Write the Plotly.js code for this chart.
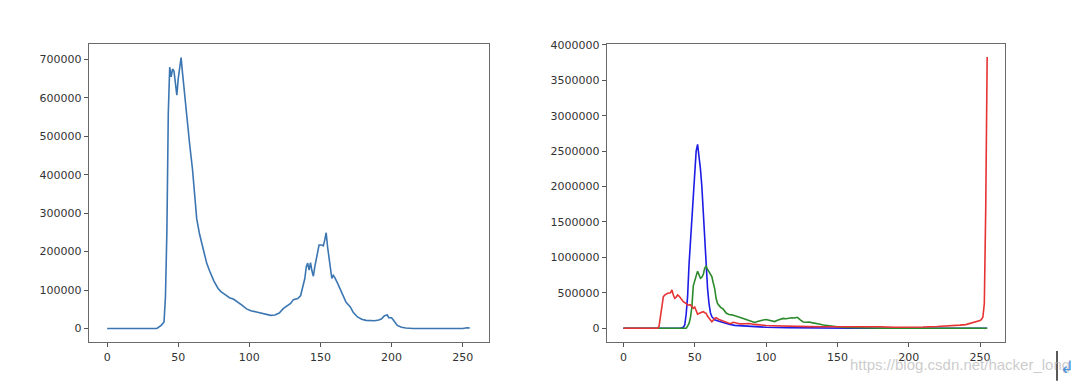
<!DOCTYPE html>
<html>
<head>
<meta charset="utf-8">
<script src="https://cdn.plot.ly/plotly-3.0.1.min.js"></script>
<style>
html,body{margin:0;padding:0;background:#ffffff;}
#chart{width:1080px;height:381px;}
</style>
</head>
<body>
<div id="chart"></div>
<script>
// Gray-level histogram (left)
const grayX = [0,35,38,40,41,42,43,44,45,46,47,48,49,50,51,52,53,54,56,58,60,61,62,63,65,67,70,72,75,78,80,83,86,89,92,95,98,101,105,109,112,115,118,121,124,127,129,131,134,136,137,139,140,141,142,143,144,145,146,147,148,149,151,152,153,154,155,156,157,158,159,160,162,164,166,168,171,173,176,179,182,185,188,191,193,195,197,198,200,202,204,207,210,215,250,253,255];
const grayY = [0,0,8000,17000,82000,250000,560000,680000,655000,675000,670000,630000,607000,650000,680000,705000,665000,625000,542000,480000,415000,375000,320000,285000,245000,213000,170000,150000,124000,104000,96000,88000,80000,76000,69000,60000,51000,46000,43000,40000,36000,34000,35000,40000,52000,60000,65000,75000,78000,85000,100000,130000,160000,170000,152000,171000,150000,136000,160000,182000,195000,217000,217000,215000,230000,249000,212000,180000,152000,130000,138000,133000,118000,100000,82000,68000,56000,42000,30000,24000,21000,20000,20000,22000,25000,33000,35000,28000,28000,18000,8000,3000,1000,0,0,2000,1000];

// Colour channel histograms (right)
const blueX = [0,40,42,43,44,45,46,47,48,49,50,51,52,53,54,55,56,57,58,59,60,61,62,64,67,70,74,78,84,90,100,115,130,150,160,255];
const blueY = [0,0,15000,46000,200000,450000,900000,1250000,1624000,1950000,2300000,2500000,2595000,2450000,2250000,2000000,1600000,1250000,850000,560000,350000,220000,164000,120000,100000,80000,58000,42000,32000,24000,15000,10000,8000,2000,0,0];

const greenX = [0,44,45,46,47,48,49,50,51,52,53,54,55,56,57,58,59,60,61,62,63,64,65,66,68,70,72,74,76,78,80,82,84,86,88,90,92,94,96,98,100,102,104,106,108,110,112,114,116,118,120,122,124,126,128,130,132,135,138,140,143,146,150,155,160,170,180,200,255];
const greenY = [0,0,30000,70000,150000,300000,600000,690000,740000,805000,760000,706000,720000,760000,850000,875000,830000,790000,770000,730000,640000,560000,420000,350000,300000,270000,215000,195000,190000,180000,164000,155000,140000,125000,110000,93000,82000,95000,112000,118000,125000,118000,108000,95000,115000,125000,140000,135000,145000,150000,145000,155000,120000,90000,85000,89000,80000,72000,58000,47000,38000,28000,20000,12000,8000,4000,2000,0,0];

const redX = [0,24,25,26,27,28,29,31,33,34,35,36,37,38,39,41,42,44,45,47,48,49,50,51,52,54,56,57,58,59,61,62,64,65,67,69,71,73,75,77,79,82,85,88,92,96,100,105,110,120,130,140,150,160,170,175,180,190,200,210,220,228,233,236,240,245,248,250,251,252,253,254,255];
const redY = [0,0,30000,164000,300000,446000,470000,494000,500000,541000,470000,424000,440000,470000,455000,410000,376000,350000,329000,330000,300000,282000,300000,240000,200000,220000,235000,220000,212000,170000,110000,94000,140000,150000,125000,110000,95000,80000,65000,85000,75000,62000,65000,68000,55000,45000,40000,36000,32000,27000,24000,22000,24000,20000,24000,30000,22000,15000,14000,18000,25000,30000,40000,45000,52000,80000,95000,110000,125000,160000,350000,1700000,3826000];

const xTicks = [0,50,100,150,200,250];
const leftYTicks = [0,100000,200000,300000,400000,500000,600000,700000];
const rightYTicks = [0,500000,1000000,1500000,2000000,2500000,3000000,3500000,4000000];

const lw = 1.6;
const traces = [
  {x: grayX, y: grayY, type: 'scatter', mode: 'lines', line: {color: '#3b76b2', width: lw}, xaxis: 'x', yaxis: 'y', hoverinfo: 'skip'},
  {x: blueX, y: blueY, type: 'scatter', mode: 'lines', line: {color: '#1c1ce6', width: lw}, xaxis: 'x2', yaxis: 'y2', hoverinfo: 'skip'},
  {x: greenX, y: greenY, type: 'scatter', mode: 'lines', line: {color: '#2b8a2b', width: lw}, xaxis: 'x2', yaxis: 'y2', hoverinfo: 'skip'},
  {x: redX, y: redY, type: 'scatter', mode: 'lines', line: {color: '#e63333', width: lw}, xaxis: 'x2', yaxis: 'y2', hoverinfo: 'skip'}
];

const axisFont = {family: 'DejaVu Sans, sans-serif', size: 11, color: '#333333'};
const frame = {showline: true, mirror: true, linecolor: '#6a6a6a', linewidth: 1.3,
  ticks: 'outside', ticklen: 4, tickwidth: 1, tickcolor: '#555555',
  showgrid: false, zeroline: false, tickfont: axisFont};

const layout = {
  width: 1080, height: 381,
  margin: {l: 0, r: 0, t: 44, b: 39},
  paper_bgcolor: '#ffffff', plot_bgcolor: '#ffffff',
  showlegend: false,
  xaxis: Object.assign({}, frame, {domain: [89/1080, 489/1080], range: [-12.75, 268.5], tickvals: xTicks, ticktext: xTicks.map(String), anchor: 'y'}),
  yaxis: Object.assign({}, frame, {domain: [0, 1], range: [-35250, 740250], tickvals: leftYTicks, ticktext: leftYTicks.map(String), anchor: 'x'}),
  xaxis2: Object.assign({}, frame, {domain: [607/1080, 1005/1080], range: [-11.5, 267.5], tickvals: xTicks, ticktext: xTicks.map(String), anchor: 'y2'}),
  yaxis2: Object.assign({}, frame, {domain: [0, 1], range: [-193000, 4011000], tickvals: rightYTicks, ticktext: rightYTicks.map(String), anchor: 'x2'}),
  annotations: [
    {xref: 'paper', yref: 'paper', x: 1072/1080, y: -0.075, xanchor: 'right', yanchor: 'middle',
     text: 'https://blog.csdn.net/hacker_long', showarrow: false,
     font: {family: 'Liberation Sans, Arial, sans-serif', size: 15, color: 'rgba(190,190,190,0.8)'}},
    {xref: 'paper', yref: 'paper', x: 1067/1080, y: -0.085, xanchor: 'center', yanchor: 'middle',
     text: '\u21B2', showarrow: false,
     font: {family: 'DejaVu Sans, sans-serif', size: 17, color: '#4a90d9'}}
  ],
  shapes: [
    {type: 'line', xref: 'paper', yref: 'paper', x0: 1057/1080, x1: 1057/1080, y0: -0.03, y1: -0.13, line: {color: '#222222', width: 1.5}}
  ]
};

Plotly.newPlot('chart', traces, layout, {staticPlot: true, displayModeBar: false});
</script>
</body>
</html>
